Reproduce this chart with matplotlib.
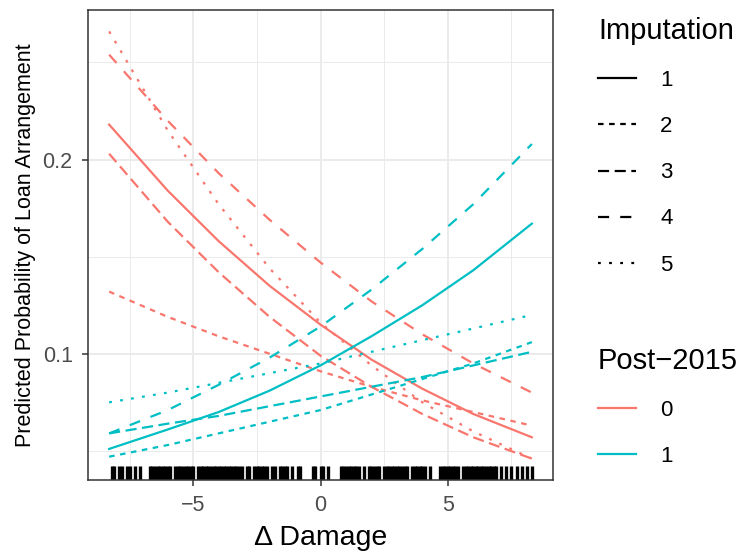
import matplotlib
matplotlib.use("Agg")
import matplotlib.pyplot as plt
from matplotlib.lines import Line2D

plt.rcParams['font.family'] = ['Liberation Sans', 'DejaVu Sans']

# predicted probabilities, at these damage values
damage = [-8.3, -6, -4, -2, 0, 2, 4, 6, 8.3]

# Post-2015 = 0
p0_imp1 = [0.218, 0.184, 0.158, 0.135, 0.115, 0.097, 0.082, 0.069, 0.057]
p0_imp2 = [0.132, 0.119, 0.109, 0.100, 0.091, 0.083, 0.076, 0.070, 0.063]
p0_imp3 = [0.203, 0.168, 0.142, 0.119, 0.099, 0.083, 0.069, 0.057, 0.046]
p0_imp4 = [0.254, 0.220, 0.193, 0.169, 0.147, 0.127, 0.110, 0.095, 0.080]
p0_imp5 = [0.266, 0.215, 0.177, 0.144, 0.116, 0.094, 0.075, 0.060, 0.046]

# Post-2015 = 1
p1_imp1 = [0.051, 0.061, 0.070, 0.081, 0.094, 0.109, 0.125, 0.143, 0.167]
p1_imp2 = [0.047, 0.053, 0.059, 0.065, 0.071, 0.079, 0.087, 0.095, 0.106]
p1_imp3 = [0.059, 0.064, 0.068, 0.073, 0.078, 0.083, 0.088, 0.094, 0.101]
p1_imp4 = [0.059, 0.071, 0.084, 0.098, 0.114, 0.133, 0.154, 0.177, 0.208]
p1_imp5 = [0.075, 0.080, 0.085, 0.090, 0.095, 0.101, 0.107, 0.113, 0.120]

# observed damage values (rug)
rug_x = [
    -8.2, -8.1, -7.9, -7.8, -7.6, -7.5, -7.3, -7.1,
    -6.7, -6.6, -6.5, -6.4, -6.3, -6.2, -6.1, -6.0, -5.9, -5.7, -5.6, -5.5,
    -5.4, -5.3, -5.2, -5.1, -5.0, -4.8, -4.7, -4.6, -4.5, -4.4, -4.3, -4.2,
    -4.1, -4.0, -3.9, -3.8, -3.7, -3.6, -3.5, -3.4, -3.3, -3.2, -3.1, -2.9,
    -2.8, -2.6, -2.5, -2.4, -2.3, -2.2, -2.1, -1.9, -1.8, -1.6, -1.5, -1.4,
    -1.3, -1.1, -0.9, -0.8,
    -0.3, -0.2, 0.0, 0.1, 0.3,
    0.8, 0.9, 1.0, 1.1, 1.2, 1.3, 1.4, 1.5, 1.7, 1.9, 2.0, 2.1, 2.2, 2.3,
    2.5, 2.6, 2.7, 2.8, 2.9, 3.0, 3.1, 3.2, 3.3, 3.4, 3.6, 3.7, 3.8, 3.9,
    4.0, 4.1, 4.3, 4.7, 4.8, 4.9, 5.0, 5.1, 5.2, 5.3, 5.4, 5.6, 5.7, 5.8,
    5.9, 6.0, 6.1, 6.2, 6.3, 6.4, 6.5, 6.6, 6.7, 6.8, 6.9,
    7.1, 7.3, 7.5, 7.7, 7.9, 8.1, 8.3,
]

imputations = ['1', '2', '3', '4', '5']
post_levels = ['0', '1']
post_colors = ['#F8766D', '#00BFC4']
# ggplot default linetype palette: solid, 22, 42, 44, 13 (stretched a bit)
imp_styles = ['-', (0, (2.5, 2.5)), (0, (5, 2.5)), (0, (5, 5)), (0, (1.25, 3.75))]

series = {
    '0': [p0_imp1, p0_imp2, p0_imp3, p0_imp4, p0_imp5],
    '1': [p1_imp1, p1_imp2, p1_imp3, p1_imp4, p1_imp5],
}

LW = 1.6
fig = plt.figure(figsize=(7.39, 5.55), dpi=100)
ax = fig.add_axes([88 / 739, 1 - 480 / 555, (553 - 88) / 739, (480 - 10) / 555])

for post, col in zip(post_levels, post_colors):
    for vals, ls in zip(series[post], imp_styles):
        ax.plot(damage, vals, color=col, lw=LW, linestyle=ls, dash_capstyle='butt')

ax.vlines(rug_x, 0, 0.03, transform=ax.get_xaxis_transform(), color='black', lw=2.4)

# ggplot-like 5% expansion
all_y = [v for post in post_levels for s in series[post] for v in s]
xr = max(damage) - min(damage)
yr = max(all_y) - min(all_y)
ax.set_xlim(min(damage) - 0.05 * xr, max(damage) + 0.05 * xr)
ax.set_ylim(min(all_y) - 0.05 * yr, max(all_y) + 0.05 * yr)

ax.set_xticks([-5, 0, 5])
ax.set_xticks([-7.5, -2.5, 2.5, 7.5], minor=True)
ax.set_yticks([0.1, 0.2])
ax.set_yticklabels(['0.1', '0.2'])
ax.set_yticks([0.05, 0.15, 0.25], minor=True)
ax.grid(which='major', color='#EBEBEB', lw=1.4)
ax.grid(which='minor', color='#EBEBEB', lw=0.7)
ax.set_axisbelow(True)

for sp in ax.spines.values():
    sp.set_color('#333333')
    sp.set_linewidth(1.1)
ax.tick_params(which='major', length=4, width=1.1, color='#333333',
               labelcolor='#4D4D4D', labelsize=15.5)
ax.tick_params(axis='x', pad=7)
ax.tick_params(axis='y', pad=7)
ax.tick_params(which='minor', length=0)

ax.set_xlabel('\u0394 Damage', fontsize=20.5, labelpad=6)
ax.set_ylabel('Predicted Probability of Loan Arrangement', fontsize=15.5, labelpad=5)

leg_kw = dict(loc='upper left', frameon=False, fontsize=16, title_fontsize=21,
              handlelength=1.7, handletextpad=1.1, labelspacing=1.13,
              alignment='left', borderpad=0, borderaxespad=0)

h1 = [Line2D([], [], color='black', lw=LW, linestyle=ls, dash_capstyle='butt') for ls in imp_styles]
leg1 = fig.legend(h1, imputations, title='Imputation',
                  bbox_to_anchor=(598 / 739, 1 - 17 / 555), **leg_kw)

h2 = [Line2D([], [], color=c, lw=LW) for c in post_colors]
leg2 = fig.legend(h2, post_levels, title='Post\u22122015',
                  bbox_to_anchor=(598 / 739, 1 - 347 / 555), **leg_kw)

fig.savefig('out.png', dpi=100)
